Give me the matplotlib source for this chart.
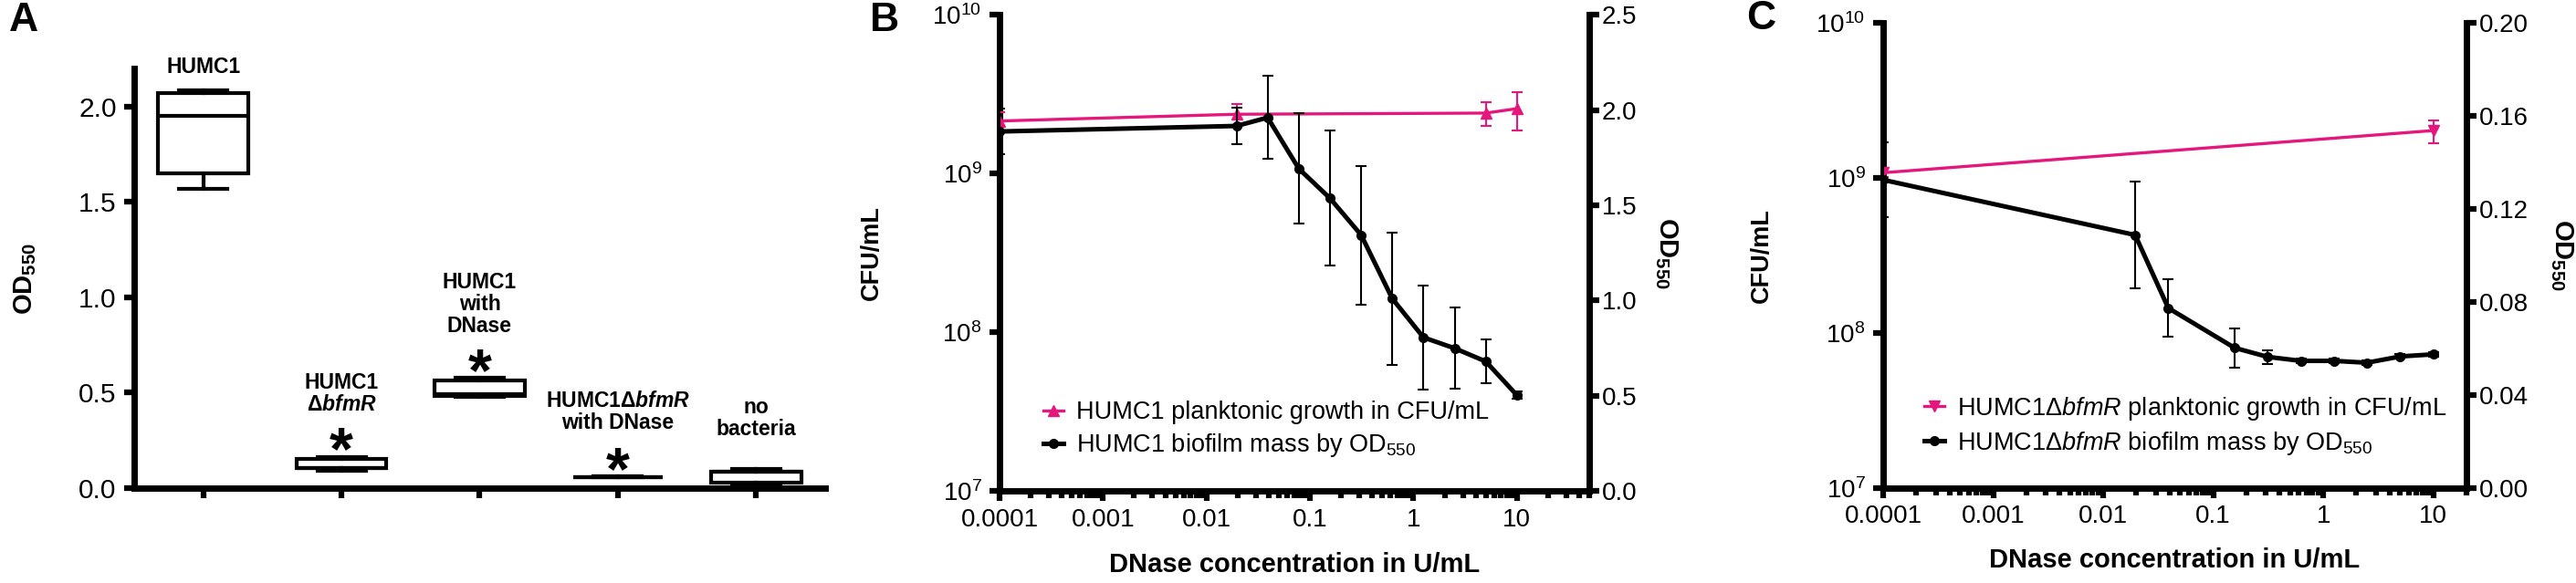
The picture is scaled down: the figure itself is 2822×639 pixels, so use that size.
import math
import matplotlib
matplotlib.use("Agg")
import matplotlib.pyplot as plt
from matplotlib.ticker import FixedLocator, NullLocator, NullFormatter, LogLocator, FuncFormatter

plt.rcParams["font.family"] = ["Liberation Sans", "DejaVu Sans"]
plt.rcParams["mathtext.fontset"] = "custom"
plt.rcParams["mathtext.rm"] = "Liberation Sans"
plt.rcParams["mathtext.it"] = "Liberation Sans:italic"
plt.rcParams["mathtext.bf"] = "Liberation Sans:bold"
plt.rcParams["mathtext.bfit"] = "Liberation Sans:italic:bold"

PINK = "#E5177D"

# ---- panel A: box stats (OD550) ----
groups = ["HUMC1", "dbfmR", "HUMC1 DNase", "dbfmR DNase", "no bacteria"]
whislo = [1.57, 0.093, 0.476, 0.056, 0.023]
q1 = [1.65, 0.105, 0.485, 0.057, 0.027]
med = [1.95, 0.107, 0.492, 0.058, 0.085]
q3 = [2.07, 0.155, 0.562, 0.059, 0.088]
whishi = [2.085, 0.165, 0.58, 0.060, 0.100]
box_labels = ["HUMC1",
              "HUMC1\n\u0394$\\mathbfit{bfmR}$",
              "HUMC1\nwith\nDNase",
              "HUMC1\u0394$\\mathbfit{bfmR}$\nwith DNase",
              "no\nbacteria"]
significant = [False, True, True, True, False]

# ---- panel B: HUMC1 ----
b_cfu_x = [0.0001, 0.0195, 5, 10]
b_cfu = [2.14e9, 2.36e9, 2.4e9, 2.56e9]
b_cfu_sd = [0.29e9, 0.37e9, 0.4e9, 0.69e9]
b_od_x = [0.0001, 0.0195, 0.039, 0.078, 0.156, 0.3125, 0.625, 1.25, 2.5, 5, 10]
b_od = [1.887, 1.916, 1.96, 1.692, 1.537, 1.344, 1.01, 0.807, 0.75, 0.681, 0.504]
b_od_sd = [0.12, 0.094, 0.218, 0.29, 0.355, 0.364, 0.347, 0.273, 0.214, 0.114, 0.019]

# ---- panel C: HUMC1 delta bfmR ----
c_cfu_x = [0.0001, 10]
c_cfu = [1.08e9, 2.02e9]
c_cfu_sd = [0.07e9, 0.34e9]
c_od_x = [0.0001, 0.0195, 0.039, 0.156, 0.3125, 0.625, 1.25, 2.5, 5, 10]
c_od = [0.1325, 0.1088, 0.0774, 0.0603, 0.0564, 0.0547, 0.0547, 0.0539, 0.0566, 0.0575]
c_od_sd = [0.016, 0.0228, 0.0124, 0.0084, 0.003, 0.001, 0.001, 0.001, 0.001, 0.001]

x_ticks = [0.0001, 0.001, 0.01, 0.1, 1, 10]
x_ticklabels = ["0.0001", "0.001", "0.01", "0.1", "1", "10"]

SPINE = 5
TICKFS = 20

fig = plt.figure(figsize=(28.22, 6.39), dpi=100)


def px(x, y):
    return x / 2822, 1 - y / 639


# ================= panel A =================
axA = fig.add_axes([0.05209, 0.16275, 0.26825, 0.71987])
stats = []
for i in range(len(groups)):
    stats.append(dict(whislo=whislo[i], q1=q1[i], med=med[i], q3=q3[i],
                      whishi=whishi[i], fliers=[], label=groups[i]))
axA.bxp(stats, positions=range(1, 6), widths=0.65, capwidths=0.35,
        showfliers=False, patch_artist=True,
        boxprops=dict(facecolor="white", edgecolor="black", linewidth=3),
        medianprops=dict(color="black", linewidth=3),
        whiskerprops=dict(color="black", linewidth=3),
        capprops=dict(color="black", linewidth=3))
axA.set_xlim(0.5, 5.5)
axA.set_ylim(0, 2.2)
axA.set_yticks([0, 0.5, 1.0, 1.5, 2.0])
axA.set_yticklabels(["0.0", "0.5", "1.0", "1.5", "2.0"])
axA.set_xticks(range(1, 6))
axA.set_xticklabels([])
for s in ["top", "right"]:
    axA.spines[s].set_visible(False)
for s in ["left", "bottom"]:
    axA.spines[s].set_linewidth(SPINE)
axA.tick_params(axis="both", direction="out", length=8, width=4.5,
                labelsize=21.5, pad=6)
axA.set_ylabel("OD$_{\\mathbf{550}}$", fontsize=21, fontweight="bold",
               ha="center", va="center", rotation_mode="default")
axA.yaxis.set_label_coords(-0.158, 0.5)

label_offsets = [10, 33, 32, 34, 23]
for i in range(len(groups)):
    axA.annotate(box_labels[i], (i + 1, whishi[i]), xytext=(0, label_offsets[i]),
                 textcoords="offset points", ha="center", va="bottom",
                 fontsize=16.5, fontweight="bold", linespacing=1.05)
    if significant[i]:
        axA.annotate("*", (i + 1, whishi[i]), xytext=(0, -10),
                     textcoords="offset points", ha="center", va="baseline",
                     fontsize=48, fontweight="bold")


# ================= panels B and C =================
def dual_panel(rect, cfu_x, cfu, cfu_sd, od_x, od, od_sd, cfu_marker,
               xmax, od_max, od_ticks, od_ticklabels, labels, ylab_x, y2lab_x,
               leg_anchor):
    ax = fig.add_axes(rect)
    ax2 = ax.twinx()

    e1 = ax.errorbar(cfu_x, cfu, yerr=cfu_sd, color=PINK, marker=cfu_marker,
                     markersize=8, linewidth=2.4, elinewidth=1.5, capsize=4.5,
                     capthick=1.5, zorder=3)
    e2 = ax2.errorbar(od_x, od, yerr=od_sd, color="black", marker="o",
                      markersize=7, linewidth=3.6, elinewidth=1.5, capsize=4.5,
                      capthick=1.5, zorder=3)

    ax.set_xscale("log")
    ax.set_yscale("log")
    ax.set_xlim(0.0001, xmax)
    ax.set_ylim(1e7, 1e10)
    ax2.set_ylim(0, od_max)

    ax.xaxis.set_major_locator(FixedLocator(x_ticks))
    ax.set_xticklabels(x_ticklabels)
    ax.xaxis.set_minor_locator(LogLocator(base=10, subs=range(2, 10), numticks=20))
    ax.xaxis.set_minor_formatter(NullFormatter())
    ax.yaxis.set_major_locator(FixedLocator([1e7, 1e8, 1e9, 1e10]))
    ax.yaxis.set_major_formatter(FuncFormatter(
        lambda v, p: "$\\mathregular{10^{%d}}$" % round(math.log10(v))))
    ax.yaxis.set_minor_locator(NullLocator())

    ax2.set_yticks(od_ticks)
    ax2.set_yticklabels(od_ticklabels)

    ax.spines["top"].set_visible(False)
    ax.spines["right"].set_visible(False)
    ax2.spines["top"].set_visible(False)
    ax2.spines["left"].set_visible(False)
    ax2.spines["bottom"].set_visible(False)
    for s in ["left", "bottom"]:
        ax.spines[s].set_linewidth(SPINE)
    ax2.spines["right"].set_linewidth(SPINE)

    ax.tick_params(axis="x", which="major", direction="out", length=8, width=4.5,
                   labelsize=TICKFS, pad=5)
    ax.tick_params(axis="x", which="minor", direction="out", length=6, width=4.5)
    ax.tick_params(axis="y", which="major", direction="out", length=8, width=4.5,
                   labelsize=TICKFS, pad=6)
    ax2.tick_params(axis="y", which="major", direction="out", length=8, width=4.5,
                    labelsize=TICKFS, pad=2)

    ax.set_xlabel("DNase concentration in U/mL", fontsize=21, fontweight="bold",
                  va="center")
    ax.xaxis.set_label_coords(0.5, -0.155)
    ax.set_ylabel("CFU/mL", fontsize=19.5, fontweight="bold", ha="center",
                  va="center", rotation_mode="default")
    ax.yaxis.set_label_coords(ylab_x, 0.5)
    ax2.set_ylabel("OD$_{\\mathbf{550}}$", fontsize=21, fontweight="bold",
                   rotation=-90, ha="center", va="center", rotation_mode="default")
    ax2.yaxis.set_label_coords(y2lab_x, 0.5)

    ax2.legend([e1.lines[0], e2.lines[0]], labels, loc="center left",
               bbox_to_anchor=leg_anchor, frameon=False, fontsize=19.5,
               handlelength=0.8, handletextpad=0.5, labelspacing=0.3,
               borderpad=0, borderaxespad=0)
    return ax, ax2


dual_panel([0.38802, 0.15728, 0.22892, 0.81768], b_cfu_x, b_cfu, b_cfu_sd,
           b_od_x, b_od, b_od_sd, "^", 50, 2.5,
           [0, 0.5, 1.0, 1.5, 2.0, 2.5], ["0.0", "0.5", "1.0", "1.5", "2.0", "2.5"],
           ["HUMC1 planktonic growth in CFU/mL",
            "HUMC1 biofilm mass by OD$_{550}$"],
           -0.217, 1.13, (0.075, 0.129))

dual_panel([0.73104, 0.16275, 0.22644, 0.79812], c_cfu_x, c_cfu, c_cfu_sd,
           c_od_x, c_od, c_od_sd, "v", 20, 0.2,
           [0, 0.04, 0.08, 0.12, 0.16, 0.20],
           ["0.00", "0.04", "0.08", "0.12", "0.16", "0.20"],
           ["HUMC1\u0394$\\mathit{bfmR}$ planktonic growth in CFU/mL",
            "HUMC1\u0394$\\mathit{bfmR}$ biofilm mass by OD$_{550}$"],
           -0.208, 1.163, (0.071, 0.134))

for letter, (lx, ly) in zip("ABC", [(10, 2), (953, 2), (1913, 0)]):
    fig.text(*px(lx, ly), letter, fontsize=32, fontweight="bold", ha="left", va="top")

fig.savefig("out.png", dpi=100)
